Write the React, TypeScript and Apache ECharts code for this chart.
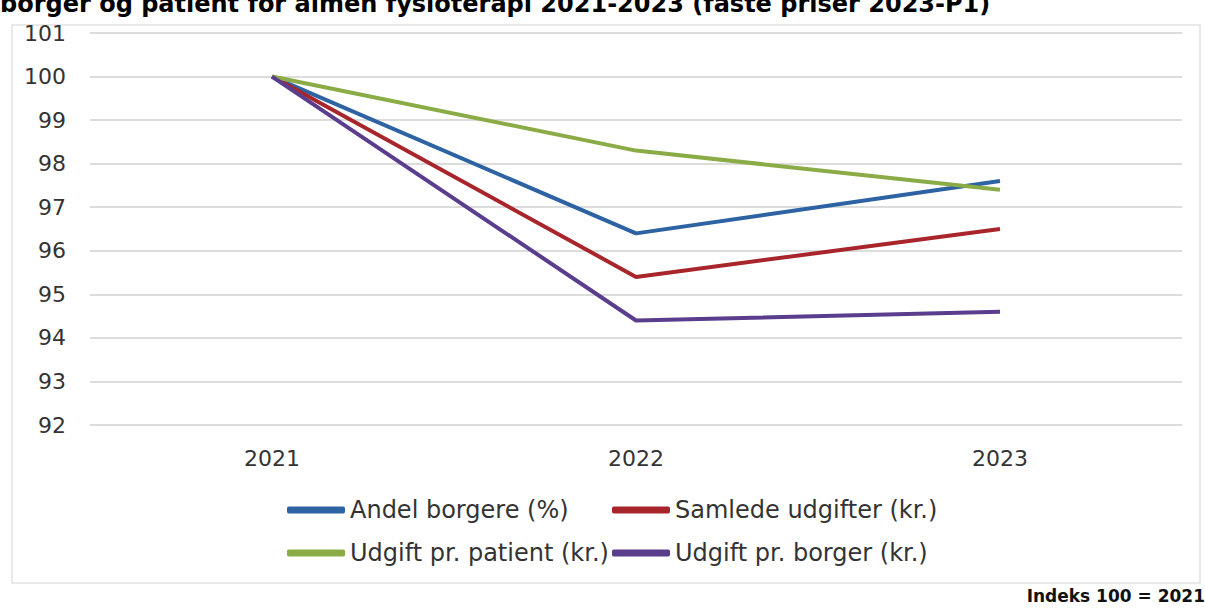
import React, { useEffect, useRef } from "react";
import * as echarts from "echarts";

const categories = ["2021", "2022", "2023"];
const andelBorgere = [100, 96.4, 97.6];
const samledeUdgifter = [100, 95.4, 96.5];
const udgiftPrPatient = [100, 98.3, 97.4];
const udgiftPrBorger = [100, 94.4, 94.6];
const titleText = "borger og patient for almen fysioterapi 2021-2023 (faste priser 2023-P1)";
const noteText = "Indeks 100 = 2021";

const FONT = "DejaVu Sans, Verdana, sans-serif";

export default function App() {
  const ref = useRef<HTMLDivElement>(null);
  useEffect(() => {
    document.body.style.margin = "0";
    const chart = echarts.init(ref.current!, null, { renderer: "svg" });
    const mk = (name: string, data: number[], color: string) => ({
      name,
      type: "line",
      data,
      symbol: "none",
      lineStyle: { color, width: 4 },
      itemStyle: { color },
    });
    const legendBase = {
      orient: "vertical",
      top: 493,
      itemGap: 19,
      icon: "roundRect",
      itemWidth: 58,
      itemHeight: 7,
      textStyle: { color: "#333", fontSize: 24, fontFamily: FONT },
    };
    chart.setOption({
      animation: false,
      backgroundColor: "#ffffff",
      grid: { left: 90, right: 23, top: 33, bottom: 183, containLabel: false },
      xAxis: {
        type: "category",
        data: categories,
        boundaryGap: true,
        axisLine: { show: false },
        axisTick: { show: false },
        axisLabel: { color: "#333", fontSize: 22, fontFamily: FONT, margin: 22 },
      },
      yAxis: {
        type: "value",
        min: 92,
        max: 101,
        interval: 1,
        axisLine: { show: false },
        axisTick: { show: false },
        axisLabel: { color: "#333", fontSize: 22, fontFamily: FONT, margin: 24 },
        splitLine: { lineStyle: { color: "#dcdcdc", width: 2 } },
      },
      legend: [
        { ...legendBase, data: ["Andel borgere (%)", "Udgift pr. patient (kr.)"], left: 282 },
        { ...legendBase, data: ["Samlede udgifter (kr.)", "Udgift pr. borger (kr.)"], left: 607 },
      ],
      graphic: [
        {
          type: "rect",
          shape: { x: 12, y: 25, width: 1188, height: 558 },
          style: { fill: "none", stroke: "#e2e2e2", lineWidth: 1.5 },
          silent: true,
        },
        {
          type: "text",
          x: 0,
          y: 4,
          style: {
            text: titleText,
            font: `bold 24px ${FONT}`,
            fill: "#000",
            verticalAlign: "middle",
            align: "left",
          },
        },
        {
          type: "text",
          x: 1205,
          y: 596,
          style: {
            text: noteText,
            font: `bold 17px ${FONT}`,
            fill: "#111",
            verticalAlign: "middle",
            align: "right",
          },
        },
      ],
      series: [
        mk("Andel borgere (%)", andelBorgere, "#2d62a3"),
        mk("Samlede udgifter (kr.)", samledeUdgifter, "#a8262b"),
        mk("Udgift pr. patient (kr.)", udgiftPrPatient, "#8aab45"),
        mk("Udgift pr. borger (kr.)", udgiftPrBorger, "#5a3d8c"),
      ],
    });
    return () => chart.dispose();
  }, []);
  return <div ref={ref} style={{ width: 1205, height: 608 }} />;
}
